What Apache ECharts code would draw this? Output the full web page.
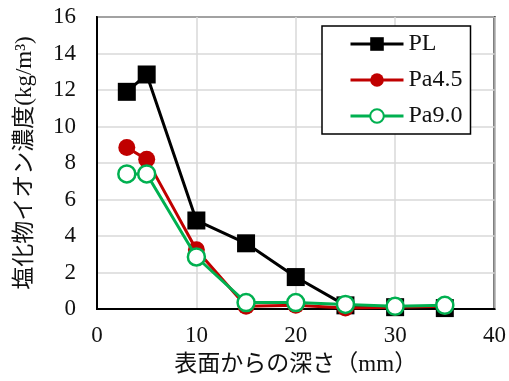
<!DOCTYPE html>
<html><head><meta charset="utf-8">
<script src="https://cdn.jsdelivr.net/npm/echarts@6/dist/echarts.min.js"></script>
<style>html,body{margin:0;padding:0;background:#fff}#c{width:509px;height:381px}</style>
</head><body><div id="c"></div>
<script>
var depth = [3, 5, 10, 15, 20, 25, 30, 35];
var PL = [11.9, 12.85, 4.85, 3.6, 1.75, 0.2, 0.1, 0.05];
var Pa45 = [8.85, 8.2, 3.25, 0.15, 0.2, 0.05, 0.1, 0.15];
var Pa90 = [7.4, 7.4, 2.85, 0.35, 0.35, 0.25, 0.15, 0.2];
var names = ['PL', 'Pa4.5', 'Pa9.0'];
var xTitle = '表面からの深さ（mm）';
var yTitle = '塩化物イオン濃度(kg/m³)';

function pairs(v){ return depth.map(function(d,i){ return [d, v[i]]; }); }
var font = '"Liberation Serif","Noto Sans CJK JP",serif';
var chart = echarts.init(document.getElementById('c'));
chart.setOption({
  animation: false,
  textStyle: {fontFamily: font},
  grid: {left: 97, right: 14, top: 17, bottom: 70, show: true, borderColor: '#000', borderWidth: 2},
  xAxis: {
    type: 'value', min: 0, max: 40, interval: 10,
    name: xTitle, nameLocation: 'middle', nameGap: 44,
    nameTextStyle: {fontSize: 23, color: '#111', fontFamily: font},
    axisLine: {show: true, lineStyle: {color: '#000', width: 2}},
    axisTick: {show: false},
    axisLabel: {fontSize: 23, color: '#111', margin: 15, fontFamily: font},
    splitLine: {show: true, lineStyle: {color: '#d9d9d9', width: 1.5}}
  },
  yAxis: {
    type: 'value', min: 0, max: 16, interval: 2,
    name: yTitle, nameLocation: 'middle', nameGap: 61, nameRotate: 90,
    nameTextStyle: {fontSize: 23, color: '#111', fontFamily: font},
    axisLine: {show: true, lineStyle: {color: '#000', width: 2}},
    axisTick: {show: false},
    axisLabel: {fontSize: 23, color: '#111', margin: 21, fontFamily: font},
    splitLine: {show: true, lineStyle: {color: '#d9d9d9', width: 1.5}}
  },
  legend: {
    orient: 'vertical', left: 322, top: 26,
    padding: [6, 8, 6, 27], itemGap: 12,
    itemWidth: 53, itemHeight: 17,
    borderColor: '#000', borderWidth: 1.5, backgroundColor: '#fff',
    lineStyle: {width: 3},
    textStyle: {fontSize: 24, color: '#111', fontFamily: font},
    data: names
  },
  series: [
    {name: names[0], type: 'line', data: pairs(PL), symbol: 'rect', symbolSize: 18,
     itemStyle: {color: '#000'}, lineStyle: {color: '#000', width: 3}, z: 3},
    {name: names[1], type: 'line', data: pairs(Pa45), symbol: 'circle', symbolSize: 17,
     itemStyle: {color: '#c00000'}, lineStyle: {color: '#c00000', width: 3}, z: 4},
    {name: names[2], type: 'line', data: pairs(Pa90), symbol: 'circle', symbolSize: 17,
     itemStyle: {color: '#fff', borderColor: '#00b050', borderWidth: 2.5},
     lineStyle: {color: '#00b050', width: 3}, z: 5}
  ]
});
</script></body></html>
